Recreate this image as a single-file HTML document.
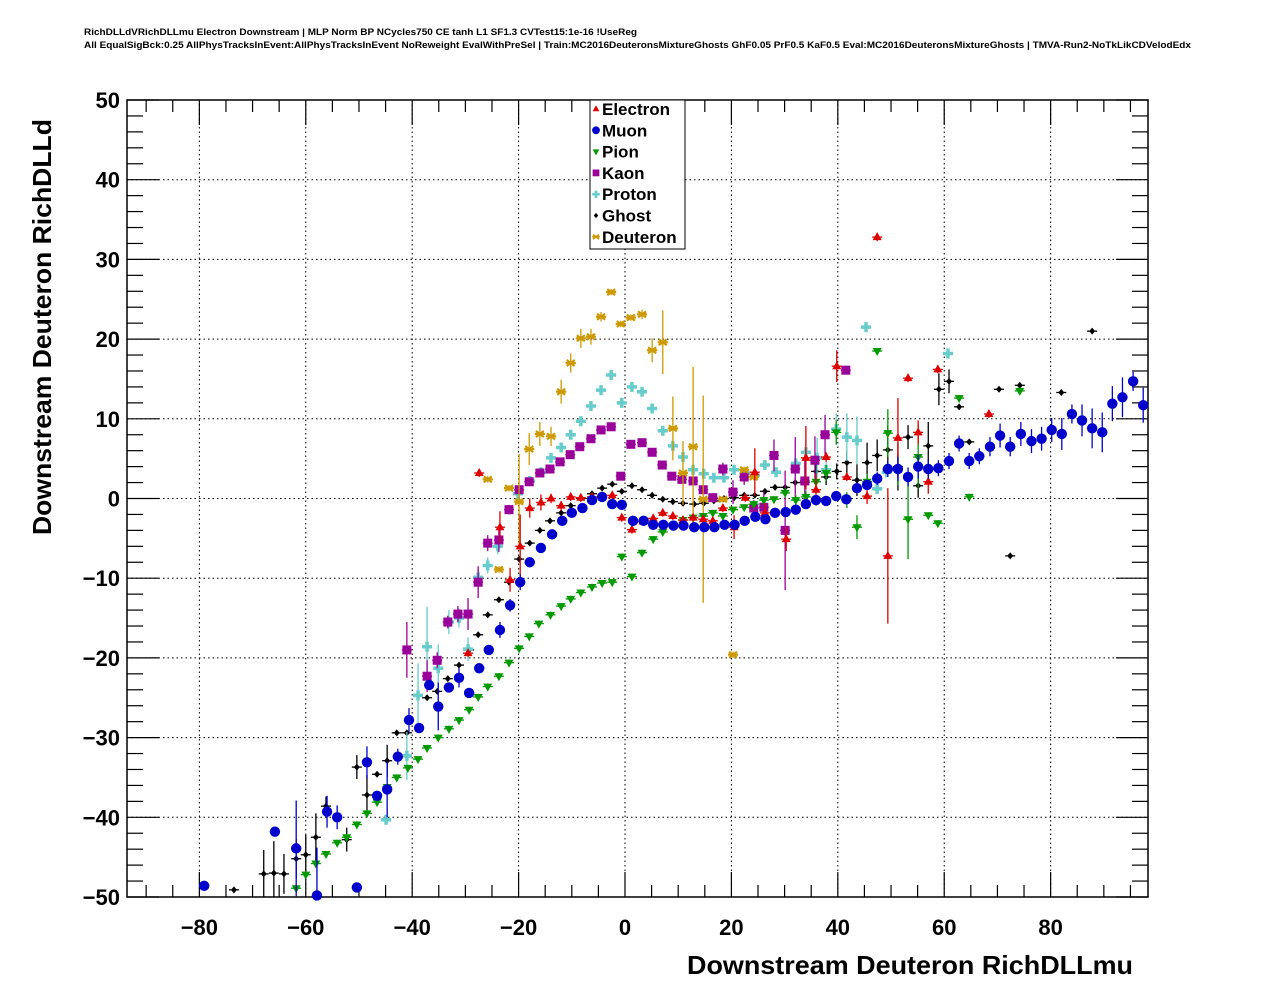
<!DOCTYPE html>
<html><head><meta charset="utf-8">
<style>
html,body{margin:0;padding:0;background:#fff;}
svg{display:block;font-family:"Liberation Sans",Arial,sans-serif;}
</style></head>
<body>
<svg id="chart" width="1276" height="996" viewBox="0 0 1276 996" xmlns="http://www.w3.org/2000/svg">
<rect width="1276" height="996" fill="#fff"/>
<text x="84" y="35" font-size="9" font-weight="bold" textLength="553" lengthAdjust="spacingAndGlyphs">RichDLLdVRichDLLmu Electron Downstream | MLP Norm BP NCycles750 CE tanh L1 SF1.3 CVTest15:1e-16 !UseReg</text>
<text x="84" y="48" font-size="9" font-weight="bold" textLength="1107" lengthAdjust="spacingAndGlyphs">All EqualSigBck:0.25 AllPhysTracksInEvent:AllPhysTracksInEvent NoReweight EvalWithPreSel | Train:MC2016DeuteronsMixtureGhosts GhF0.05 PrF0.5 KaF0.5 Eval:MC2016DeuteronsMixtureGhosts | TMVA-Run2-NoTkLikCDVelodEdx</text>
<g id="grid"></g>
<g id="axes"></g>
<g id="marks"></g>
<text x="1133" y="974" font-size="26" font-weight="bold" text-anchor="end" textLength="446" lengthAdjust="spacingAndGlyphs">Downstream Deuteron RichDLLmu</text>
<text transform="translate(51,327) rotate(-90)" font-size="26" font-weight="bold" text-anchor="middle" textLength="416" lengthAdjust="spacingAndGlyphs">Downstream Deuteron RichDLLd</text>
<g id="legend"></g>
</svg>
<script>
// ---- data (x, y in data units) ----
const xTicks = [-80,-60,-40,-20,0,20,40,60,80];
const yTicks = [-50,-40,-30,-20,-10,0,10,20,30,40,50];
const seriesNames = ["Electron","Muon","Pion","Kaon","Proton","Ghost","Deuteron"];

const electronX = [-29.5,-27.4,-23.5,-21.6,-19.7,-17.9,-15.8,-13.9,-12,-10.2,-8.3,-6.2,-2.4,-0.6,1.3,3.4,5.3,7.1,9,10.9,12.8,14.7,16.5,18.4,20.5,22.6,24.4,26.3,30.3,34,35.9,37.8,39.8,41.7,45.5,47.4,49.4,51.3,53.2,55.1,57,58.8,64.7,68.4];
const electronY = [-19.4,3.2,-3.6,-10.2,-6,-1.2,-0.5,0,-0.9,0.2,0.1,0.2,0.4,-2.4,-3.9,-2.9,-2.5,-1.8,-2.2,-2.7,-2.4,-2.6,-2.8,-1.2,-3.6,0.1,3.3,-1.8,-5.1,5.1,1.1,5.2,16.6,2.7,0.3,32.8,-7.2,7.6,15.1,8.3,2.1,16.2,4.9,10.6];
const electronErr = [0.5,0.5,2,1.5,4,1.2,1,0.6,0.6,0.5,0.5,0.5,0.5,0.5,0.5,0.5,0.5,0.5,0.5,0.5,0.5,0.5,0.5,0.5,1.5,0.5,3,1.2,1.5,4,2,0.6,2,0.5,1,0.5,8.5,5,0.5,1.5,1.5,0.5,0.5,0.5];

const muonX = [-79.1,-65.8,-61.8,-57.9,-56,-54.1,-50.4,-48.5,-46.6,-44.7,-42.7,-40.6,-38.7,-36.8,-35.1,-33.1,-31.2,-29.3,-27.4,-25.6,-23.5,-21.6,-19.7,-17.9,-15.8,-13.7,-11.8,-10,-8,-6.2,-4.3,-2.4,-0.6,1.5,3.5,5.3,7.2,9.1,11,13,14.9,16.8,18.7,20.6,22.5,24.5,26.4,28.2,30.2,32.1,34,35.9,37.8,39.7,41.6,43.6,45.5,47.4,49.4,51.3,53.2,55.1,57,58.9,60.9,62.8,64.7,66.6,68.6,70.5,72.4,74.4,76.4,78.3,80.2,82.1,84,85.9,87.8,89.7,91.6,93.5,95.5,97.4];
const muonY = [-48.6,-41.8,-43.9,-49.8,-39.3,-40,-48.8,-33.1,-37.3,-36.5,-32.4,-27.8,-28.8,-23.4,-26.1,-23.7,-22.5,-24.4,-21.3,-19,-16.5,-13.4,-10.5,-8,-6.2,-4.5,-2.8,-1.8,-1.2,-0.2,0.2,-0.7,-0.8,-2.8,-2.8,-3.3,-3.3,-3.4,-3.4,-3.6,-3.6,-3.6,-3.3,-3.3,-2.8,-2.3,-2.6,-1.8,-1.7,-1.4,-0.7,-0.2,-0.3,0.3,-0.1,1.3,1.7,2.5,3.7,3.7,2.7,4,3.7,3.8,4.7,6.9,4.7,5.3,6.5,7.9,6.5,8.1,7.2,7.5,8.6,8.1,10.6,9.8,8.8,8.3,11.9,12.7,14.7,11.7];
const muonErr = [0.5,0.6,6,6,2,1.5,0.6,2,0.5,3.5,1,1.5,0.5,0.6,3,0.5,1.2,0.5,0.6,0.5,1,0.8,1,0.5,0.4,0.4,0.4,0.4,0.4,0.4,0.4,0.4,0.4,0.4,0.4,0.4,0.4,0.4,0.4,0.4,0.4,0.4,0.4,0.4,0.4,0.4,0.4,0.4,0.4,0.4,0.4,0.4,0.4,0.4,0.4,0.5,0.6,0.8,1,1.5,1.2,1.5,1.2,1,1,1,1,1,1.2,1.5,1.2,1.5,1.5,1.5,1.5,2,1.2,2,2.5,2.5,2.2,2.5,1.2,2.2];

const pionX = [-61.8,-60,-58.1,-56.2,-54.1,-52.3,-50.4,-48.5,-46.6,-44.7,-42.9,-40.8,-38.9,-37.2,-35.1,-33.1,-31.2,-29.3,-27.6,-25.8,-23.7,-21.8,-19.9,-18,-16.2,-14,-12,-10.2,-8.3,-6.2,-4.3,-2.4,-0.6,1.3,3.2,5.3,7.1,9,10.9,12.8,14.7,16.5,18.4,20.3,22.4,24.2,26.1,28,30.1,32.1,34,35.9,37.8,39.7,41.7,43.6,45.5,47.4,49.4,51.3,53.2,55.1,57,58.8,62.8,64.7,74.2];
const pionY = [-48.9,-47.2,-45.8,-44.6,-43.2,-42.5,-40.9,-39.5,-38.1,-36.2,-35,-33.8,-32.7,-31.3,-30,-28.9,-27.8,-26.5,-24.9,-23.6,-22.3,-20.6,-18.8,-17.3,-15.7,-14.6,-13.5,-12.6,-11.8,-11.1,-10.6,-10.5,-7.3,-9.8,-6.8,-5.1,-4.2,-3.4,-2.7,-2.4,-2.2,-1.8,-2.2,-1.4,-1.1,-0.7,-0.2,-0.1,0.7,-0.2,0.2,2.1,3.2,8.3,-0.2,-3.6,2.1,18.5,8.2,3.7,-2.6,5.2,-2.1,-3.1,12.6,0.2,13.5];
const pionErr = [0.4,0.4,0.4,0.4,0.4,0.4,0.4,0.4,0.4,0.4,0.4,0.4,0.4,0.4,0.4,0.4,0.4,0.4,0.4,0.4,0.4,0.4,0.4,0.4,0.4,0.4,0.4,0.4,0.4,0.4,0.4,0.4,0.4,0.4,0.4,0.4,0.4,0.4,0.4,0.4,0.4,0.4,0.4,0.4,0.4,0.4,0.4,0.4,0.6,0.6,0.8,1,1,1.5,1,1.5,1,0.4,3,2,5,4,0.4,0.4,0.4,0.4,0.4];

const kaonX = [-41,-37.2,-35.3,-33.3,-31.4,-29.5,-27.6,-25.8,-23.7,-21.8,-19.9,-18,-16,-14.1,-12.2,-10.3,-8.5,-6.4,-4.5,-2.6,-0.8,1.1,3.2,5.1,7,8.8,10.7,12.8,14.7,16.5,18.4,20.3,22.4,24.2,26.1,28,30.1,32,33.8,35.7,37.6,41.5];
const kaonY = [-19,-22.3,-20.3,-15.5,-14.5,-14.5,-10.5,-5.6,-5.2,-1.4,1.1,2.1,3.2,3.7,4.6,5.5,6.5,7.5,8.6,9,2.8,6.8,7,5.8,4.2,2.8,2.4,2.2,1.1,0.1,3.7,0.8,2.7,-1.2,-1.1,5.4,-4,3.7,2.2,4.8,8,16.1];
const kaonErr = [3.5,2,1,0.8,1,2,2,1,1.5,0.6,0.5,0.4,0.4,0.4,0.4,0.4,0.4,0.4,0.4,0.4,0.4,0.4,0.4,0.4,0.4,0.4,0.4,0.4,0.4,0.5,0.8,1.5,1,1,2,2,7.5,4,3,3,2.5,0.4];

const protonX = [-44.9,-41,-38.9,-37.2,-35.1,-33.1,-31.2,-29.5,-27.6,-25.8,-23.9,-20.1,-17.9,-15.8,-13.9,-12,-10.2,-8.3,-6.4,-4.5,-2.6,-0.6,1.3,3.2,5.1,7.1,9,10.9,12.8,14.8,16.7,18.6,20.5,22.6,24.4,26.3,28.4,32.1,34,36.1,37.8,39.7,41.7,43.6,45.3,47.4,49.2,60.7];
const protonY = [-40.3,-32.3,-24.7,-18.6,-21.3,-15.5,-15,-18.9,-9.9,-8.4,-6,0.6,2.2,3.3,5.1,6.4,8,9.7,11.6,13.6,15.5,12,14,13.4,11.3,8.5,6.6,5.2,3.6,3.1,2.6,2.6,3.6,3.2,2.9,4.2,3.3,4.4,5.8,5.1,3.6,8.7,7.7,7.3,21.5,1.2,3.3,18.2];
const protonErr = [0.4,3,4,5,3,1.5,1.2,1.5,1,1,1,1,0.5,0.4,0.4,0.4,0.4,0.4,0.4,0.4,0.4,0.4,0.4,0.4,0.4,0.4,0.4,0.4,0.4,0.4,0.4,0.4,0.4,0.4,0.4,0.4,0.4,0.5,1.5,2.5,1,2,3,3,0.4,0.4,0.4,0.4];

const ghostX = [-73.5,-67.9,-66,-64.1,-61.8,-60,-58.1,-56.2,-52.3,-50.4,-48.5,-46.6,-44.7,-42.9,-41,-37.2,-35.3,-33.3,-31.2,-29.3,-27.6,-25.8,-23.7,-21.8,-19.9,-17.9,-16,-14.1,-12,-10.2,-8.3,-6.2,-4.3,-2.4,-0.6,1.3,3.2,5.1,7.1,9,10.9,13,14.8,16.7,18.6,20.5,22.4,24.4,26.3,28.2,30.1,32,33.8,35.9,37.8,39.8,41.7,43.6,45.5,47.4,49.4,51.3,53.2,55.1,57,59,60.9,62.8,64.7,70.3,72.4,74.2,82,87.8];
const ghostY = [-49.1,-47.1,-47,-47.1,-45.2,-44.7,-42.5,-38.6,-42.8,-33.7,-37.2,-34.6,-32.9,-29.4,-29.4,-25,-24.2,-22.6,-20.9,-19,-17.1,-14.6,-12.7,-10.5,-7.6,-5.6,-4,-2.8,-1.8,-0.9,0,0.6,1.3,1.8,0.9,1.6,1.1,0.4,-0.1,-0.4,-0.6,-0.7,-0.6,-0.3,0,0.1,0.4,0.4,0.9,1.4,1.4,2,2,3.4,2.7,3.4,4.5,2.3,4.5,5.4,6.1,4,7.7,1.6,6.6,13.7,14.7,11.5,7.1,13.7,-7.2,14.2,13.3,21];
const ghostErr = [0.3,3,4,2.5,2.5,2.5,3,1.2,1.5,1.5,2.5,0.3,2,0.3,0.3,0.3,0.3,0.3,0.3,0.3,0.3,0.3,0.3,0.3,0.3,0.3,0.3,0.3,0.3,0.3,0.3,0.3,0.3,0.3,0.3,0.3,0.3,0.3,0.3,0.3,0.3,0.3,0.3,0.3,0.3,0.3,0.3,0.3,0.3,0.3,0.3,0.5,0.5,1,1,1,1.5,2,2.5,2,3,3,1.5,1.5,3,2,1.5,0.3,0.3,0.3,0.3,0.3,0.3,0.3];

const deutX = [-25.8,-23.7,-21.8,-19.9,-18,-16,-13.9,-12,-10.2,-8.3,-6.4,-4.5,-2.6,-0.8,1.1,3.2,5.1,7.1,9,10.9,12.8,14.7,18.4,20.3,22.4,24.2];
const deutY = [2.4,-8.9,1.3,-0.4,6.2,8.1,7.8,13.4,17,20.1,20.3,22.8,25.9,21.9,22.7,23.1,18.6,19.6,8.8,3.2,6.5,-0.1,-0.1,-19.6,3.6,2.7];
const deutErr = [0.4,0.4,0.4,6,2,1.5,1.2,1.5,1.2,1.2,1,0.6,0.4,0.4,0.4,0.6,1.5,4,4,4,10,13,0.4,0.4,0.4,0.4];

// ---- scales ----
const L=127,R=1148,T=100,B=897, X0=-93.6, X1=98.3, Y0=-50, Y1=50;
const sx = v => L + (v-X0)/(X1-X0)*(R-L);
const sy = v => B - (v-Y0)/(Y1-Y0)*(B-T);
const NS="http://www.w3.org/2000/svg";
function mk(tag, attrs, parent){const e=document.createElementNS(NS,tag);for(const k in attrs)e.setAttribute(k,attrs[k]);parent.appendChild(e);return e;}

const grid=document.getElementById('grid'), axes=document.getElementById('axes'), marks=document.getElementById('marks'), legend=document.getElementById('legend');

xTicks.forEach(t=>{const l=mk('line',{x1:sx(t),x2:sx(t),y1:T,y2:B,stroke:'#000','stroke-width':1,'stroke-dasharray':'1.5,3'},grid);

});
yTicks.slice(1,-1).forEach(t=>{const l=mk('line',{x1:L,x2:R,y1:sy(t),y2:sy(t),stroke:'#000','stroke-width':1,'stroke-dasharray':'1.5,3'},grid);

});

const fr=mk('rect',{x:L,y:T,width:R-L,height:B-T,fill:'none',stroke:'#000','stroke-width':1.5},axes);



for(let v=-90; v<=95; v+=5){
  const major = v%20===0; const len = major?25:12;
  mk('line',{x1:sx(v),x2:sx(v),y1:B,y2:B-len,stroke:'#000','stroke-width':1.2},axes);
  mk('line',{x1:sx(v),x2:sx(v),y1:T,y2:T+len,stroke:'#000','stroke-width':1.2},axes);
}
xTicks.forEach(t=>{const tx=mk('text',{x:sx(t),y:935,'font-size':22,'font-weight':'bold','text-anchor':'middle'},axes);
tx.textContent = t<0 ? '\u2212'+Math.abs(t) : String(t);

});
for(let v=-50; v<=50; v+=2){
  const major = v%10===0; const len = major?32:16;
  mk('line',{x1:L,x2:L+len,y1:sy(v),y2:sy(v),stroke:'#000','stroke-width':1.2},axes);
  mk('line',{x1:R,x2:R-len,y1:sy(v),y2:sy(v),stroke:'#000','stroke-width':1.2},axes);
}
yTicks.forEach(t=>{const tx=mk('text',{x:120,y:sy(t)+8,'font-size':22,'font-weight':'bold','text-anchor':'end'},axes);
tx.textContent = t<0 ? '\u2212'+Math.abs(t) : String(t);

});

const colors=['#dd0000','#0000cc','#009900','#990099','#66cccc','#000000','#cc9900'];
function marker(type,cx,cy,c,g){
  if(type===0) mk('polygon',{points:`${cx},${cy-5} ${cx-4.5},${cy+3} ${cx+4.5},${cy+3}`,fill:c},g);
  else if(type===1) mk('circle',{cx,cy,r:5.2,fill:c},g);
  else if(type===2) mk('polygon',{points:`${cx},${cy+5} ${cx-4.5},${cy-3} ${cx+4.5},${cy-3}`,fill:c},g);
  else if(type===3) mk('rect',{x:cx-4.5,y:cy-4.5,width:9,height:9,fill:c},g);
  else if(type===4) mk('path',{d:`M${cx-5},${cy}H${cx+5}M${cx},${cy-5}V${cy+5}`,stroke:c,'stroke-width':3.5},g);
  else if(type===5) mk('polygon',{points:`${cx},${cy-3.5} ${cx-3},${cy} ${cx},${cy+3.5} ${cx+3},${cy}`,fill:c},g);
  else mk('path',{d:`M${cx-4},${cy-3}L${cx+4},${cy+3}M${cx-4},${cy+3}L${cx+4},${cy-3}M${cx-5},${cy}H${cx+5}`,stroke:c,'stroke-width':2.2},g);
}
const allX=[electronX,muonX,pionX,kaonX,protonX,ghostX,deutX];
const allY=[electronY,muonY,pionY,kaonY,protonY,ghostY,deutY];
const allE=[electronErr,muonErr,pionErr,kaonErr,protonErr,ghostErr,deutErr];
const drawOrder=[5,4,3,6,2,0,1];
drawOrder.forEach(s=>{
  const g=mk('g',{},marks);
  
  
  const xs=allX[s], ys=allY[s], es=allE[s];
  for(let i=0;i<xs.length;i++){
    const cx=sx(xs[i]), cy=sy(ys[i]), e=es[i]||0.4;
    const y1=Math.max(T,sy(ys[i]+e)), y2=Math.min(B,sy(ys[i]-e));
    mk('line',{x1:cx-5,x2:cx+5,y1:cy,y2:cy,stroke:colors[s],'stroke-width':1.3},g);
    mk('line',{x1:cx,x2:cx,y1:y1,y2:y2,stroke:colors[s],'stroke-width':1.3},g);
    marker(s,cx,cy,colors[s],g);
  }
});

const lb=mk('rect',{x:590,y:100,width:95,height:149,fill:'#fff',stroke:'#000','stroke-width':1},legend);


seriesNames.forEach((n,i)=>{
  const y=109+i*21.3;
  const g=mk('g',{},legend);
  
  
  const mg=mk('g',{transform:`translate(596,${y}) scale(0.75) translate(-596,${-y})`},g);
  marker(i,596,y,colors[i],mg);
  const t=mk('text',{x:602,y:y+6,'font-size':17,'font-weight':'bold'},g);
  t.textContent=n;
});
</script>
</body></html>
